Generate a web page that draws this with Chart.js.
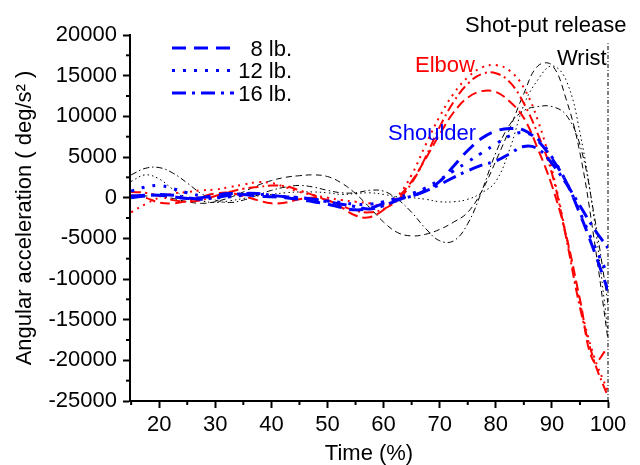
<!DOCTYPE html>
<html>
<head>
<meta charset="utf-8">
<script src="https://cdn.jsdelivr.net/npm/chart.js@4/dist/chart.umd.min.js"></script>
<style>
  body { margin: 0; background: #fff; }
</style>
</head>
<body>
<canvas id="chartCanvas" width="640" height="465"></canvas>
<script>
const FONT = "'Liberation Sans', Arial, sans-serif";

// ================= DATA =================

const times = [15, 17.5, 20, 22.5, 25, 27.5, 30, 32.5, 35, 37.5, 40, 42.5, 45, 47.5, 50, 52.5, 55, 57.5,
               60, 62.5, 65, 67.5, 70, 72.5, 75, 77.5, 80, 82.5, 85, 87.5, 90, 92.5, 95, 97.5, 100];

const shoulder8  = [200, 300, 300, 100, -100, 0, 300, 500, 400, 200, 100, 0, -200, -500, -800, -1200, -1500, -1300,
                    -700, -200, 200, 900, 2000, 3900, 5800, 7300, 8200, 8500, 8300, 7000, 4800, 2000, -2000, -6500, -11400];
const shoulder12 = [800, 1300, 1500, 1100, 600, 200, 0, 100, 300, 400, 300, 100, 0, -200, -400, -600, -800, -800,
                    -500, 0, 500, 1200, 2200, 3300, 4400, 5500, 6600, 7600, 8000, 7200, 5000, 2000, -1800, -5800, -9500];
const shoulder16 = [0, 200, 400, 300, 0, -200, 0, 300, 500, 500, 300, 100, 0, -200, -500, -800, -1100, -1400,
                    -1000, -300, 200, 800, 1600, 2500, 3300, 4000, 4500, 5400, 6300, 6000, 4200, 1800, -1000, -3800, -6200];

const elbow8  = [300, 0, -600, -700, -400, 100, 500, 600, 200, -300, -700, -600, -200, 0, -300, -1200, -2200, -2400,
                 -1500, 0, 2000, 4800, 7800, 10500, 12300, 13100, 13000, 11800, 9800, 6000, 1500, -4500, -12500, -20200, -18400];
const elbow12 = [-1800, -800, 0, 500, 700, 900, 1000, 1300, 1600, 1900, 1800, 1300, 700, 300, 0, -300, -500, -700,
                 -1000, 200, 2800, 6500, 10000, 12800, 14800, 16000, 16300, 15600, 13500, 9500, 3500, -4500, -13000, -19500, -23800];
const elbow16 = [700, 600, 200, -300, -500, -300, 200, 700, 1100, 1300, 1500, 1400, 900, 300, -300, -1000, -1600, -1800,
                 -1400, -300, 1800, 5000, 8700, 11800, 14000, 15200, 15300, 14200, 11600, 7800, 3000, -4800, -13500, -20000, -24500];

const wrist8  = [0, 200, 200, -100, -500, -700, -500, 0, 700, 1500, 2100, 2500, 2700, 2800, 2600, 1800, 500, -1200,
                 -3000, -4300, -4700, -4500, -3900, -3000, -1800, 800, 4500, 8500, 12800, 16200, 16300, 12200, 5500, -5000, -17500];
const wrist12 = [2000, 2800, 2300, 1000, 0, -400, -600, -400, -100, 200, 400, 600, 700, 700, 600, 400, 500, 600,
                 400, 100, 0, -200, -500, -500, -200, 600, 2000, 6000, 11400, 14500, 16200, 14500, 8000, -2500, -16500];
const wrist16 = [2800, 3600, 3700, 3000, 1800, 500, -300, -600, -300, 300, 900, 1300, 1500, 1300, 900, 600, 600, 900,
                 800, -200, -1800, -3800, -5300, -5300, -3200, 800, 5500, 9000, 10700, 11200, 11200, 10200, 6500, -2000, -13000];

const releaseTime = 100;
const releaseSpan = [-25000, 19000];

const xTicks = [20, 30, 40, 50, 60, 70, 80, 90, 100];
const xMinor = [15, 25, 35, 45, 55, 65, 75, 85, 95];
const yTicks = [-25000, -20000, -15000, -10000, -5000, 0, 5000, 10000, 15000, 20000];
const yMinor = [-22500, -17500, -12500, -7500, -2500, 2500, 7500, 12500, 17500];

const legendLabels = ["8 lb.", "12 lb.", "16 lb."];

// ================= STYLES =================

const BLUE = "#0000ff", RED = "#ff0000", BLACK = "#000000";

const dashes = {
    blue:  [[14, 8], [3, 8], [14, 6, 3, 6]],
    red:   [[10, 5], [2, 5], [10, 4, 2, 4]],
    black: [[6, 4], [1.5, 3], [6, 3, 1.5, 3]]
};

function series(values, color, width, dash) {
    return {
        data: values.map((v, i) => ({ x: times[i], y: v })),
        borderColor: color,
        borderWidth: width,
        borderDash: dash,
        pointRadius: 0,
        tension: 0.4,
        fill: false
    };
}

// first dataset ends up on top
const datasets = [
    series(shoulder8,  BLUE, 3, dashes.blue[0]),
    series(shoulder12, BLUE, 3, dashes.blue[1]),
    series(shoulder16, BLUE, 3, dashes.blue[2]),
    series(elbow8,  RED, 2, dashes.red[0]),
    series(elbow12, RED, 2, dashes.red[1]),
    series(elbow16, RED, 2, dashes.red[2]),
    series(wrist8,  BLACK, 1, dashes.black[0]),
    series(wrist12, BLACK, 1, dashes.black[1]),
    series(wrist16, BLACK, 1, dashes.black[2]),
    {
        data: releaseSpan.map(v => ({ x: releaseTime, y: v })),
        borderColor: BLACK,
        borderWidth: 1,
        borderDash: [4, 2, 1, 2],
        pointRadius: 0,
        clip: false
    }
];

// ================= EXTRAS =================

const extras = {
    id: "extras",
    afterDraw(c) {
        const ctx = c.ctx, xs = c.scales.x, ys = c.scales.y, area = c.chartArea;
        ctx.save();

        // minor ticks
        ctx.strokeStyle = BLACK;
        ctx.lineWidth = 2;
        ctx.setLineDash([]);
        xMinor.forEach(v => {
            const px = xs.getPixelForValue(v);
            ctx.beginPath();
            ctx.moveTo(px, area.bottom);
            ctx.lineTo(px, area.bottom + 4);
            ctx.stroke();
        });
        yMinor.forEach(v => {
            const py = ys.getPixelForValue(v);
            ctx.beginPath();
            ctx.moveTo(area.left, py);
            ctx.lineTo(area.left - 4, py);
            ctx.stroke();
        });

        // legend
        ctx.font = "22px " + FONT;
        ctx.textAlign = "right";
        ctx.textBaseline = "alphabetic";
        legendLabels.forEach((lab, i) => {
            const y = area.top + 13 + i * 22.5;
            ctx.strokeStyle = BLUE;
            ctx.lineWidth = 3;
            ctx.setLineDash(dashes.blue[i]);
            ctx.beginPath();
            ctx.moveTo(area.left + 42, y);
            ctx.lineTo(area.left + 104, y);
            ctx.stroke();
            ctx.fillStyle = BLACK;
            ctx.fillText(lab, area.left + 162, y + 7.5);
        });

        // annotations
        ctx.textAlign = "left";
        ctx.fillStyle = BLACK;
        ctx.fillText("Shot-put release", 465, 32);
        ctx.fillText("Wrist", 557, 65);
        ctx.fillStyle = RED;
        ctx.fillText("Elbow", 415, 72);
        ctx.fillStyle = BLUE;
        ctx.fillText("Shoulder", 388, 140);

        ctx.restore();
    }
};

// ================= CHART =================

const tickFont = { family: FONT, size: 22 };

new Chart(document.getElementById("chartCanvas"), {
    type: "line",
    data: { datasets: datasets },
    options: {
        responsive: false,
        animation: false,
        layout: { padding: { top: 35, right: 32, left: 0, bottom: 0 } },
        plugins: { legend: { display: false }, tooltip: { enabled: false } },
        scales: {
            x: {
                type: "linear",
                min: 14.8,
                max: 100,
                afterBuildTicks: s => { s.ticks = xTicks.map(v => ({ value: v })); },
                afterFit: s => { s.height = 64; },
                grid: { drawOnChartArea: false, tickLength: 7, tickWidth: 2, tickColor: BLACK },
                border: { color: BLACK, width: 2 },
                ticks: { color: BLACK, font: tickFont, padding: 4, maxRotation: 0, autoSkip: false,
                         callback: v => String(v) },
                title: {
                    display: true, text: "Time (%)", color: BLACK,
                    font: { family: FONT, size: 22, lineHeight: 1 },
                    padding: { top: 0, bottom: 0 }
                }
            },
            y: {
                min: -25000,
                max: 20000,
                afterBuildTicks: s => { s.ticks = yTicks.map(v => ({ value: v })); },
                afterFit: s => { s.width = 130; },
                grid: { drawOnChartArea: false, tickLength: 7, tickWidth: 2, tickColor: BLACK },
                border: { color: BLACK, width: 2 },
                ticks: { color: BLACK, font: tickFont, padding: 6, autoSkip: false,
                         callback: v => String(v) },
                title: {
                    display: true, text: "Angular acceleration ( deg/s² )", color: BLACK,
                    font: { family: FONT, size: 22, lineHeight: 1 },
                    padding: { top: 14, bottom: 0 }
                }
            }
        }
    },
    plugins: [extras]
});
</script>
</body>
</html>
